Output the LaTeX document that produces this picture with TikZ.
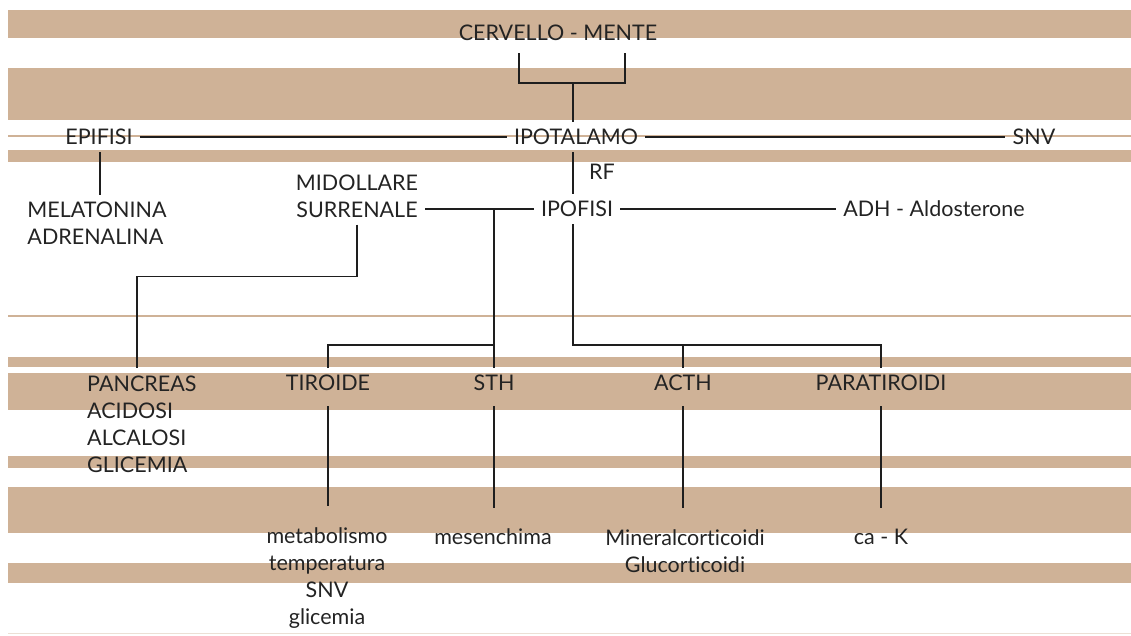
\documentclass[tikz,border=0pt]{standalone}
\usepackage{fontspec}
\newfontfamily\gillish[Ligatures=NoCommon]{Lato}
\usepackage{tikz}
\usetikzlibrary{positioning,calc}
\definecolor{bandtan}{RGB}{207,178,151}
\definecolor{inkgray}{RGB}{35,35,35}
\definecolor{wirecol}{RGB}{30,30,30}
\tikzset{
  lbl/.style={font=\gillish\fontsize{21.5}{27}\selectfont, text=inkgray, inner sep=7pt},
  wire/.style={draw=wirecol, line width=1.4pt},
  drop/.style={wire, shorten <=8pt, shorten >=14pt},
  rule/.style={draw=bandtan, line width=1.5pt},
}
\begin{document}
\begin{tikzpicture}[x=1pt, y=-1pt]
    \useasboundingbox (0,0) rectangle (1131,635);
    % background stripes
    \foreach \ya/\yb in {10/38, 68/120, 150/162, 357/367, 373/410, 456/468, 487/533, 563/583} {
      \fill[bandtan] (8,\ya) rectangle (1131,\yb);
    }
    \foreach \yy in {136, 316} {
      \draw[rule] (8,\yy) -- (1131,\yy);
    }
    \draw[bandtan!40, line width=1pt] (8,633) -- (1131,633);

    \node[lbl] (cerv) at (558,33) {CERVELLO - MENTE};
    \node[lbl] (ipot) at (576,137) {IPOTALAMO};
    \node[lbl] (epif) at (99,137) {EPIFISI};
    \node[lbl] (snv) at (1034,137) {SNV};
    \node[lbl] (rf) at (602,172) {RF};
    \node[lbl] (ipof) at (577,209) {IPOFISI};
    \node[lbl, align=center] (midol) at (357,196) {MIDOLLARE\\SURRENALE};
    \node[lbl] (adh) at (934,209) {ADH - Aldosterone};
    \node[lbl, align=left] (melat) at (97,223) {MELATONINA\\ADRENALINA};

    \node[lbl, align=left, anchor=west] (panc) at (80,424) {PANCREAS\\ACIDOSI\\ALCALOSI\\GLICEMIA};
    \node[lbl] (tir) at (328,383) {TIROIDE};
    \node[lbl] (sth) at (494,383) {STH};
    \node[lbl] (acth) at (683,383) {ACTH};
    \node[lbl] (para) at (881,383) {PARATIROIDI};

    \node[lbl, align=center] (metab) at (327,578) {metabolismo\\temperatura\\SNV\\glicemia};
    \node[lbl] (mes) at (493,537) {mesenchima};
    \node[lbl, align=center] (minc) at (685,551) {Mineralcorticoidi\\Glucorticoidi};
    \node[lbl] (cak) at (881,537) {ca - K};

    % connectors
    \coordinate (brk) at (573,83);
    \coordinate (busL) at (494,345);
    \coordinate (busR) at (573,345);
    \draw[wire] ([xshift=-39pt,yshift=-5pt]cerv.south) |- (brk)
      -| ([xshift=67pt,yshift=-5pt]cerv.south);
    \draw[wire] (brk) -- (brk |- ipot.north);
    \draw[wire] (epif) -- (ipot);
    \draw[wire] (ipot) -- (snv);
    \draw[wire] ([xshift=1pt]epif.south) -- ([xshift=1pt]epif.south |- melat.north);
    \draw[wire] (ipot.south -| brk) -- (ipof.north -| brk);
    \draw[wire] (ipof.west) -- (ipof.west -| midol.east);
    \draw[wire] (ipof.east) -- (adh.west);
    \draw[wire] (midol.south) -- ++(0,52) -| ([xshift=-5pt]panc.north);
    \draw[wire] (busL |- ipof.west) -- (sth.north);
    \draw[wire] (tir.north) |- (busL);
    \draw[wire] (ipof.south -| brk) -- (busR) -| (para.north);
    \draw[wire] (acth.north) -- (acth.north |- busR);
    \draw[drop] (tir.south) -- (tir.south |- metab.north);
    \draw[drop] (sth.south) -- (sth.south |- mes.north);
    \draw[drop] (acth.south) -- (acth.south |- minc.north);
    \draw[drop] (para.south) -- (para.south |- cak.north);
\end{tikzpicture}
\end{document}
